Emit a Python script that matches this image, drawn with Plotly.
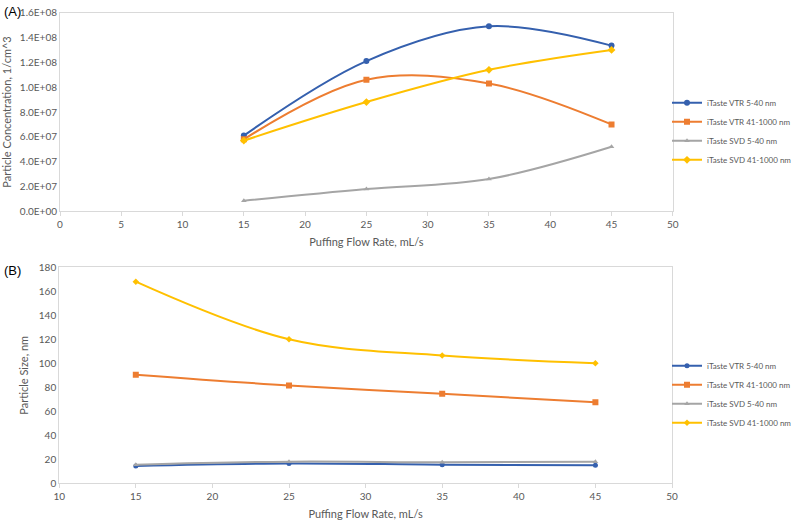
import plotly.graph_objects as go

flow = [15, 25, 35, 45]
series_names = ["iTaste VTR 5-40 nm", "iTaste VTR 41-1000 nm", "iTaste SVD 5-40 nm", "iTaste SVD 41-1000 nm"]

conc_vtr_small = [6.1e7, 1.21e8, 1.49e8, 1.335e8]
conc_vtr_large = [5.8e7, 1.06e8, 1.03e8, 7.0e7]
conc_svd_small = [8.5e6, 1.8e7, 2.6e7, 5.2e7]
conc_svd_large = [5.7e7, 8.8e7, 1.14e8, 1.3e8]

size_vtr_small = [14.5, 16.5, 15.5, 15.0]
size_vtr_large = [90.5, 81.5, 74.5, 67.5]
size_svd_small = [15.5, 18.0, 17.5, 18.0]
size_svd_large = [168, 120, 106.5, 100]

conc_ticks = [0, 2e7, 4e7, 6e7, 8e7, 1.0e8, 1.2e8, 1.4e8, 1.6e8]
conc_ticktext = [f"{v:.1E}" for v in conc_ticks]
top_xticks = [0, 5, 10, 15, 20, 25, 30, 35, 40, 45, 50]
bot_xticks = [10, 15, 20, 25, 30, 35, 40, 45, 50]
size_ticks = [0, 20, 40, 60, 80, 100, 120, 140, 160, 180]

colors = ["#3560AE", "#ED7D31", "#A5A5A5", "#FFC000"]
symbols = ["circle", "square", "triangle-up", "diamond"]
msize_top = [6, 6, 5, 6]
msize_bot = [5, 6, 5, 5]

FONT = "Lato"
TICKCOL = "#595959"
LINECOL = "#D9D9D9"

W, H = 800, 521

fig = go.Figure()

top_data = [conc_vtr_small, conc_vtr_large, conc_svd_small, conc_svd_large]
bot_data = [size_vtr_small, size_vtr_large, size_svd_small, size_svd_large]

for i, (name, ys) in enumerate(zip(series_names, top_data)):
    fig.add_trace(go.Scatter(
        x=flow, y=ys, name=name, mode="lines+markers",
        line=dict(color=colors[i], width=2, shape="spline", smoothing=1),
        marker=dict(color=colors[i], symbol=symbols[i], size=msize_top[i]),
        xaxis="x", yaxis="y", legend="legend"))

for i, (name, ys) in enumerate(zip(series_names, bot_data)):
    fig.add_trace(go.Scatter(
        x=flow, y=ys, name=name, mode="lines+markers",
        line=dict(color=colors[i], width=2, shape="spline", smoothing=1),
        marker=dict(color=colors[i], symbol=symbols[i], size=msize_bot[i]),
        xaxis="x2", yaxis="y2", legend="legend2"))

axis_common = dict(showgrid=False, zeroline=False, showline=True, mirror=True,
                   linecolor=LINECOL, linewidth=1, automargin=False,
                   tickfont=dict(family=FONT, size=10, color=TICKCOL))

fig.update_layout(
    width=W, height=H,
    margin=dict(l=0, r=0, t=0, b=0, autoexpand=False),
    paper_bgcolor="white", plot_bgcolor="white",
    font=dict(family=FONT, color=TICKCOL),
    xaxis=dict(domain=[0.075, 0.841], range=[0, 50], tickvals=top_xticks,
               ticks="outside", ticklen=4, tickcolor=LINECOL, anchor="y",
               title=dict(text="Puffing Flow Rate, mL/s", standoff=8,
                          font=dict(family=FONT, size=11, color=TICKCOL)),
               **axis_common),
    yaxis=dict(domain=[0.5944, 0.9756], range=[0, 1.6e8], tickvals=conc_ticks,
               ticktext=conc_ticktext, ticks="", anchor="x",
               title=dict(text="Particle Concentration, 1/cm^3", standoff=6,
                          font=dict(family=FONT, size=11, color=TICKCOL)),
               **axis_common),
    xaxis2=dict(domain=[0.074, 0.84], range=[10, 50], tickvals=bot_xticks,
                ticks="outside", ticklen=4, tickcolor=LINECOL, anchor="y2",
                title=dict(text="Puffing Flow Rate, mL/s", standoff=9,
                           font=dict(family=FONT, size=11, color=TICKCOL)),
                **axis_common),
    yaxis2=dict(domain=[0.0724, 0.487], range=[0, 180], tickvals=size_ticks,
                ticks="", anchor="x2",
                title=dict(text="Particle Size, nm", standoff=7,
                           font=dict(family=FONT, size=11, color=TICKCOL)),
                **axis_common),
    legend=dict(x=667 / W, y=0.8305, xanchor="left", yanchor="top",
                font=dict(family=FONT, size=8, color=TICKCOL),
                tracegroupgap=0, itemwidth=30, bgcolor="rgba(0,0,0,0)"),
    legend2=dict(x=667 / W, y=0.326, xanchor="left", yanchor="top",
                 font=dict(family=FONT, size=8, color=TICKCOL),
                 tracegroupgap=0, itemwidth=30, bgcolor="rgba(0,0,0,0)"),
    annotations=[
        dict(text="(A)", x=0.0025, y=0.997, xref="paper", yref="paper",
             xanchor="left", yanchor="top", showarrow=False,
             font=dict(family="Liberation Sans", size=13, color="black")),
        dict(text="(B)", x=0.0025, y=0.499, xref="paper", yref="paper",
             xanchor="left", yanchor="top", showarrow=False,
             font=dict(family="Liberation Sans", size=13, color="black")),
    ],
)

# remove the browser's default 8px body margin so the figure fills the window
fig.write_html("out.html", config={"displayModeBar": False},
               post_script="document.body.style.margin='0px';")
